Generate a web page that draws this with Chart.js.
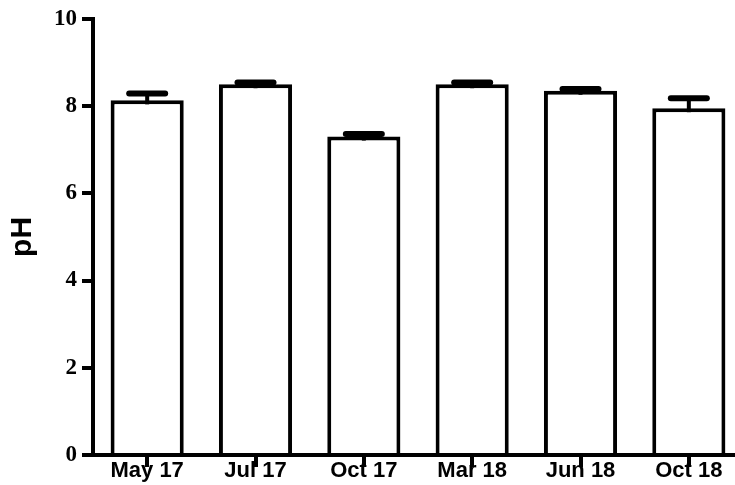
<!DOCTYPE html>
<html>
<head>
<meta charset="utf-8">
<script src="https://cdn.jsdelivr.net/npm/chart.js@4"></script>
<style>
  html, body { margin: 0; padding: 0; background: #fff; overflow: hidden; }
  #wrap { width: 745px; height: 485px; }
</style>
</head>
<body>
<div id="wrap"><canvas id="phChart" width="745" height="485"></canvas></div>
<script>
const categories = ['May 17', 'Jul 17', 'Oct 17', 'Mar 18', 'Jun 18', 'Oct 18'];
const phValues = [8.13, 8.50, 7.30, 8.50, 8.35, 7.95];
const phErrors = [0.16, 0.04, 0.06, 0.04, 0.04, 0.23];
const yTicks = [0, 2, 4, 6, 8, 10];

// error bars drawn on top of each bar using the y scale
const errorBars = {
  id: 'errorBars',
  afterDatasetsDraw(chart) {
    const ctx = chart.ctx;
    const y = chart.scales.y;
    const meta = chart.getDatasetMeta(0);
    ctx.save();
    ctx.strokeStyle = '#000';
    meta.data.forEach((bar, i) => {
      const yVal = y.getPixelForValue(phValues[i]);
      const yTop = y.getPixelForValue(phValues[i] + phErrors[i]);
      ctx.lineCap = 'butt';
      ctx.lineWidth = 4;
      ctx.beginPath();
      ctx.moveTo(bar.x, yVal + 4);
      ctx.lineTo(bar.x, yTop);
      ctx.stroke();
      ctx.lineCap = 'round';
      ctx.lineWidth = 6;
      ctx.beginPath();
      ctx.moveTo(bar.x - 18, yTop);
      ctx.lineTo(bar.x + 18, yTop);
      ctx.stroke();
    });
    ctx.restore();
  }
};

new Chart(document.getElementById('phChart'), {
  type: 'bar',
  data: {
    labels: categories,
    datasets: [{
      data: phValues,
      backgroundColor: '#fff',
      borderColor: '#000',
      borderWidth: 4,
      categoryPercentage: 0.675,
      barPercentage: 1
    }]
  },
  options: {
    responsive: false,
    animation: false,
    devicePixelRatio: 1,
    layout: { padding: { top: 18, right: 2, left: 0, bottom: 0 } },
    plugins: { legend: { display: false }, tooltip: { enabled: false } },
    scales: {
      x: {
        offset: true,
        grid: {
          offset: false,
          drawOnChartArea: false,
          drawTicks: true,
          tickLength: 12,
          color: '#000',
          lineWidth: 4
        },
        border: { display: true, color: '#000', width: 4 },
        ticks: {
          color: '#000',
          padding: -9,
          maxRotation: 0,
          font: { family: 'Liberation Sans', weight: 'bold', size: 22 }
        },
        afterFit(scale) { scale.height = 30; }
      },
      y: {
        min: 0,
        max: 10,
        afterBuildTicks(scale) { scale.ticks = yTicks.map(v => ({ value: v })); },
        grid: {
          drawOnChartArea: false,
          drawTicks: true,
          tickLength: 11,
          color: '#000',
          lineWidth: 4
        },
        border: { display: true, color: '#000', width: 4 },
        ticks: {
          color: '#000',
          padding: 5,
          font: { family: 'Liberation Serif', weight: 'bold', size: 23 }
        },
        title: {
          display: true,
          text: 'pH',
          color: '#000',
          padding: { top: 5, bottom: 0 },
          font: { family: 'Liberation Sans', weight: 'bold', size: 30 }
        },
        afterFit(scale) { scale.width = 93; }
      }
    }
  },
  plugins: [errorBars]
});
</script>
</body>
</html>
